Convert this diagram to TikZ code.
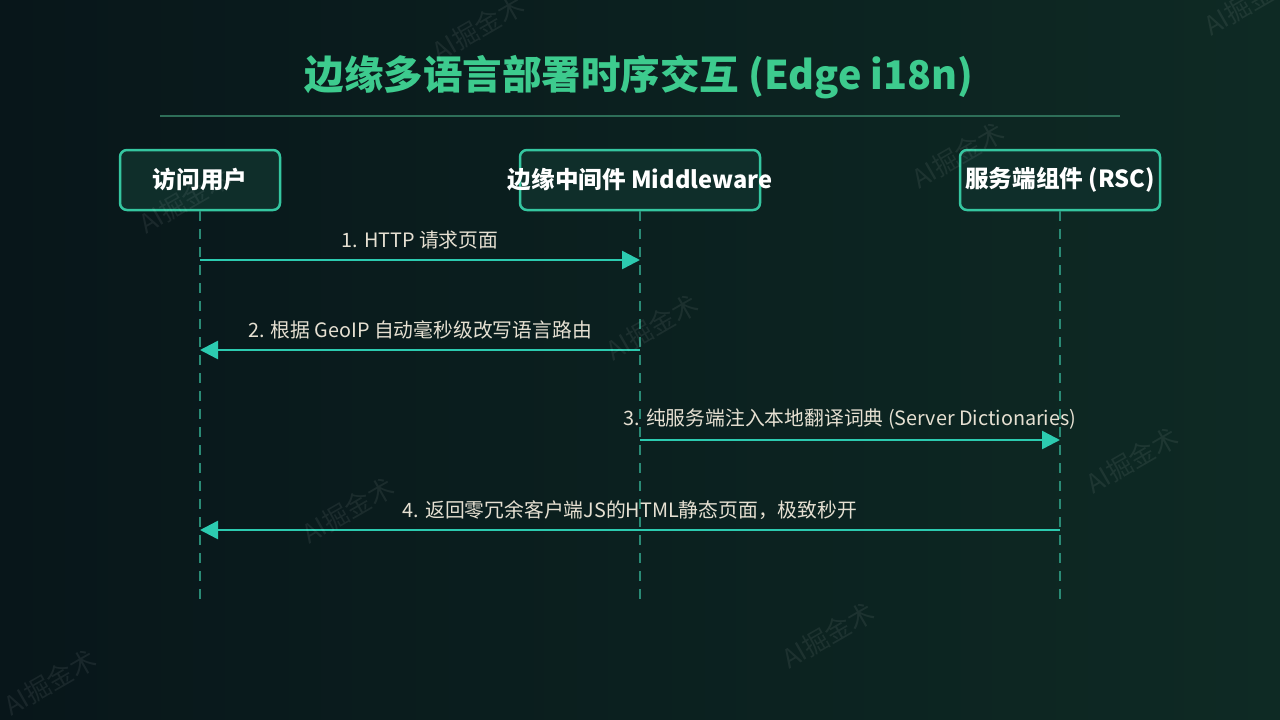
\documentclass[tikz,border=0pt]{standalone}
\usepackage{fontspec}
\setmainfont{Noto Sans CJK SC}
\usetikzlibrary{arrows.meta, positioning}
\definecolor{colorBgLeft}{HTML}{08161A}
\definecolor{colorBgRight}{HTML}{0E2A24}
\definecolor{colorTitle}{HTML}{3DCB8E}
\definecolor{colorRule}{HTML}{2E6E58}
\definecolor{colorBorder}{HTML}{35C6A0}
\definecolor{colorBox}{HTML}{0F2E2A}
\definecolor{colorLife}{HTML}{2A8A75}
\definecolor{colorArrow}{HTML}{2CCBB0}
\definecolor{colorLabel}{HTML}{E6E0D2}
\tikzset{
  actor/.style={draw=colorBorder, fill=colorBox, rounded corners=7pt, line width=2.5pt, minimum height=60pt, inner sep=0pt},
  actorText/.style={text=white, font=\bfseries\fontsize{23.6}{28}\selectfont},
  lifeline/.style={colorLife, line width=1.6pt, dash pattern=on 10pt off 8pt},
  msg/.style={colorArrow, line width=2.5pt, -{Triangle[length=18pt,width=18pt]}},
  msgLabel/.style={text=colorLabel, font=\fontsize{19.8}{24}\selectfont, above=6pt},
  watermark/.style={text=white, opacity=0.07, rotate=30, font=\fontsize{26}{30}\selectfont}
}

\begin{document}
\begin{tikzpicture}[x=1pt, y=-1pt]
\useasboundingbox (0,0) rectangle (1280,720);
\shade[left color=colorBgLeft, right color=colorBgRight] (0,0) rectangle (1280,720);

% title
\node[text=colorTitle, font=\bfseries\fontsize{39.5}{46}\selectfont] (title) at (639,77) {边缘多语言部署时序交互 (Edge i18n)};
\coordinate (ruleL) at (160,116);
\coordinate (ruleR) at (1120,116);
\draw[colorRule, line width=2pt] (ruleL) -- (ruleR);

% participants
\node[actor, minimum width=160pt] (user) at (200,180) {};
\node[actorText] (userText) at (user) {访问用户};
\node[actor, minimum width=240pt] (mw) at (640,180) {};
\node[actorText] (mwText) at (mw) {边缘中间件 Middleware};
\node[actor, minimum width=200pt] (rsc) at (1060,180) {};
\node[actorText] (rscText) at (rsc) {服务端组件 (RSC)};

% lifelines
\coordinate (userEnd) at (200,600);
\coordinate (mwEnd) at (640,600);
\coordinate (rscEnd) at (1060,600);
\draw[lifeline] (user.south) -- (userEnd);
\draw[lifeline] (mw.south) -- (mwEnd);
\draw[lifeline] (rsc.south) -- (rscEnd);

% messages
\coordinate (m1) at (0,260);
\coordinate (m2) at (0,350);
\coordinate (m3) at (0,440);
\coordinate (m4) at (0,530);
\draw[msg] (user.south |- m1) -- node[msgLabel] {1. HTTP 请求页面} (mw.south |- m1);
\draw[msg] (mw.south |- m2) -- node[msgLabel] {2. 根据 GeoIP 自动毫秒级改写语言路由} (user.south |- m2);
\draw[msg] (mw.south |- m3) -- node[msgLabel] {3. 纯服务端注入本地翻译词典 (Server Dictionaries)} (rsc.south |- m3);
\draw[msg] (rsc.south |- m4) -- node[msgLabel] {4. 返回零冗余客户端JS的HTML静态页面，极致秒开} (user.south |- m4);

% watermarks
\node[watermark] (wm1) at (478,28) {AI掘金术};
\node[watermark] (wm2) at (1250,2) {AI掘金术};
\node[watermark] (wm3) at (185,200) {AI掘金术};
\node[watermark] (wm4) at (958,155) {AI掘金术};
\node[watermark] (wm5) at (652,327) {AI掘金术};
\node[watermark] (wm6) at (1132,460) {AI掘金术};
\node[watermark] (wm7) at (348,510) {AI掘金术};
\node[watermark] (wm8) at (828,635) {AI掘金术};
\node[watermark] (wm9) at (50,682) {AI掘金术};
\end{tikzpicture}
\end{document}
